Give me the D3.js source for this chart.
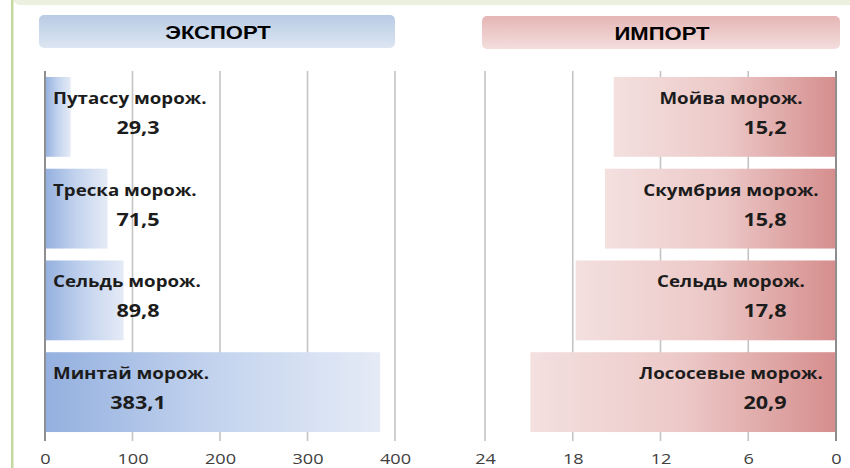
<!DOCTYPE html>
<html>
<head>
<meta charset="utf-8">
<script src="https://cdn.jsdelivr.net/npm/d3@7"></script>
<style>
  html, body { margin: 0; padding: 0; background: #ffffff; }
  svg { display: block; }
</style>
</head>
<body>
<svg id="chart" width="850" height="468"></svg>
<script>
// ---- data ----
const exportCategories = ["Путассу морож.", "Треска морож.", "Сельдь морож.", "Минтай морож."];
const exportValues = [29.3, 71.5, 89.8, 383.1];
const exportTicks = [0, 100, 200, 300, 400];

const importCategories = ["Мойва морож.", "Скумбрия морож.", "Сельдь морож.", "Лососевые морож."];
const importValues = [15.2, 15.8, 17.8, 20.9];
const importTicks = [24, 18, 12, 6, 0];

const panelTitles = ["ЭКСПОРТ", "ИМПОРТ"];

const fmt = v => String(v).replace(".", ",");

const svg = d3.select("#chart");
const defs = svg.append("defs");

function linGrad(id, stops, vertical) {
  const g = defs.append("linearGradient").attr("id", id)
    .attr("x1", 0).attr("y1", 0)
    .attr("x2", vertical ? 0 : 1).attr("y2", vertical ? 1 : 0);
  stops.forEach((c, i) => g.append("stop").attr("offset", i / (stops.length - 1)).attr("stop-color", c));
}
linGrad("expBar", ["#94b0df", "#c3d3ee", "#e5ebf6"], false);
linGrad("impBar", ["#f3e0df", "#ecc9c8", "#d58e8d"], false);
linGrad("expHead", ["#b8cbe4", "#dde6f2"], true);
linGrad("impHead", ["#e5b6b5", "#f3dedd"], true);

// stretched text helper (reference text is horizontally widened)
function sText(parent, x, y, str, o) {
  return parent.append("text")
    .attr("transform", `translate(${x},${y}) scale(${o.sx},1)`)
    .attr("text-anchor", o.anchor || "middle")
    .attr("font-family", o.family || "Open Sans, sans-serif")
    .attr("font-weight", o.weight || "normal")
    .attr("font-size", o.size)
    .attr("fill", o.fill || "#1c1c1c")
    .text(str);
}

// frame decoration
svg.append("rect").attr("x", 13).attr("y", -20).attr("width", 860).attr("height", 25)
  .attr("rx", 7).attr("fill", "#ebf1de");
svg.append("rect").attr("x", 11).attr("y", 0).attr("width", 2.5).attr("height", 468)
  .attr("fill", "#c4d9a0");

// headers
const headers = [
  { x: 39, y: 15, w: 356, h: 33, fill: "url(#expHead)", title: panelTitles[0] },
  { x: 482, y: 16, w: 358, h: 33, fill: "url(#impHead)", title: panelTitles[1] }
];
headers.forEach(h => {
  svg.append("rect").attr("x", h.x).attr("y", h.y).attr("width", h.w).attr("height", h.h)
    .attr("rx", 5).attr("fill", h.fill);
  sText(svg, h.x + h.w / 2 + 1, h.y + 24, h.title,
    { sx: 1.16, size: 19, weight: "bold", family: "Liberation Sans, Arial, sans-serif", fill: "#000" });
});

const yTop = 71, yBot = 438;

function panel(opts) {
  const { cats, vals, ticks, x, grad, labelX, labelAnchor, valueX } = opts;
  const y = d3.scaleBand().domain(cats).range([yTop, yBot]).paddingInner(0.13).paddingOuter(0.065);
  const g = svg.append("g");

  // gridlines (extending below plot as tick marks)
  g.selectAll("line.grid").data(ticks).join("line")
    .attr("x1", d => x(d)).attr("x2", d => x(d))
    .attr("y1", yTop).attr("y2", yBot + 3)
    .attr("stroke", d => d === 0 ? "#8a8a8a" : "#c4c4c4")
    .attr("stroke-width", 1.6);

  // bars
  g.selectAll("rect.bar").data(vals).join("rect")
    .attr("x", d => Math.min(x(0), x(d)))
    .attr("width", d => Math.abs(x(d) - x(0)))
    .attr("y", (d, i) => y(cats[i]))
    .attr("height", y.bandwidth())
    .attr("fill", grad);

  // zero axis on top
  g.append("line").attr("x1", x(0)).attr("x2", x(0)).attr("y1", yTop).attr("y2", yBot + 3)
    .attr("stroke", "#8a8a8a").attr("stroke-width", 1.6);

  // axis labels (positions from the scale's ticks)
  const axis = d3.axisBottom(x).tickValues(ticks).tickSize(0).tickPadding(0);
  const ag = g.append("g").attr("transform", `translate(0,${yBot + 26})`).call(axis);
  ag.select(".domain").remove();
  ag.selectAll(".tick text").remove();
  ag.selectAll(".tick").each(function (d) {
    sText(d3.select(this), 0, 0, String(d), { sx: 1.25, size: 14.5, fill: "#404040" });
  });

  // labels
  cats.forEach((c, i) => {
    const cy = y(c) + y.bandwidth() / 2;
    sText(g, labelX, cy - 13, c, { sx: 1.17, size: 16, weight: "bold", anchor: labelAnchor });
    sText(g, valueX, cy + 17, fmt(vals[i]), { sx: 1.2, size: 18, weight: "bold" });
  });
}

panel({
  cats: exportCategories, vals: exportValues, ticks: exportTicks,
  x: d3.scaleLinear().domain([0, 400]).range([45, 395]),
  grad: "url(#expBar)", labelX: 53, labelAnchor: "start", valueX: 138
});
panel({
  cats: importCategories, vals: importValues, ticks: importTicks,
  x: d3.scaleLinear().domain([0, 24]).range([836, 485]),
  grad: "url(#impBar)", labelX: 731, labelAnchor: "middle", valueX: 765
});
</script>
</body>
</html>
